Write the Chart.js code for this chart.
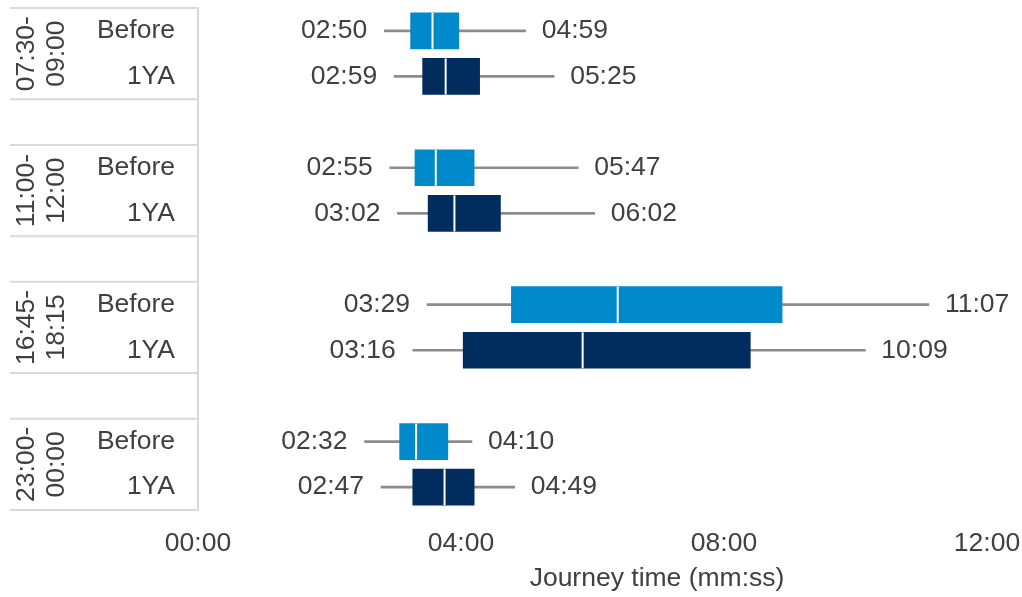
<!DOCTYPE html>
<html>
<head>
<meta charset="utf-8">
<script src="https://cdn.jsdelivr.net/npm/chart.js@4.4.1/dist/chart.umd.min.js"></script>
<style>
  html, body { margin: 0; padding: 0; background: #ffffff; }
  #wrap { position: relative; width: 1022px; height: 597px; }
</style>
</head>
<body>
<div id="wrap"><canvas id="myChart" width="1022" height="597"></canvas></div>
<script>
Chart.defaults.font.size = 26.5;
Chart.defaults.font.family = "'Liberation Sans', Arial, Helvetica, sans-serif";
Chart.defaults.color = '#404040';
const labelFont = "26.5px 'Liberation Sans', Arial, sans-serif";

// rows of the chart (empty label = spacer row between groups)
const rowLabels = ['Before', '1YA', '', 'Before', '1YA', '', 'Before', '1YA', '', 'Before', '1YA'];
const groupLabels = [['07:30-', '09:00'], ['11:00-', '12:00'], ['16:45-', '18:15'], ['23:00-', '00:00']];
const groupRows = [0, 3, 6, 9];

// journey times in seconds
const whiskerMin = [170, 179, null, 175, 182, null, 209, 196, null, 152, 167];
const boxQ1 = [194, 205, null, 198, 210, null, 286, 242, null, 184, 196];
const boxMedian = [214, 226, null, 217, 234, null, 383, 351, null, 199, 225];
const boxQ3 = [238, 257, null, 252, 276, null, 533, 504, null, 228, 252];
const whiskerMax = [299, 325, null, 347, 362, null, 667, 609, null, 250, 289];

const xTicks = [0, 240, 480, 720];
const colorBefore = '#0089CB';
const color1YA = '#002D5D';

function mmss(v) {
    let m = Math.floor(v / 60);
    let s = Math.round(v % 60);
    return String(m).padStart(2, '0') + ':' + String(s).padStart(2, '0');
}

function pairs(a, b) {
    let out = [];
    for (let i = 0; i < a.length; i++) {
        out.push(a[i] == null ? null : [a[i], b[i]]);
    }
    return out;
}

let boxColors = rowLabels.map(l => l == 'Before' ? colorBefore : color1YA);

// ------------------------------
// median lines, whisker labels, group labels, separators
const boxPlugin = {
    id: 'boxExtras',
    afterDatasetsDraw(chart) {
        const ctx = chart.ctx;
        const xs = chart.scales.x;
        const ys = chart.scales.y;
        const meta = chart.getDatasetMeta(0);
        ctx.save();
        // median
        ctx.strokeStyle = '#ffffff';
        ctx.lineWidth = 2;
        for (let i = 0; i < boxMedian.length; i++) {
            if (boxMedian[i] == null) continue;
            let el = meta.data[i];
            let x = xs.getPixelForValue(boxMedian[i]);
            ctx.beginPath();
            ctx.moveTo(x, el.y - el.height / 2);
            ctx.lineTo(x, el.y + el.height / 2);
            ctx.stroke();
        }
        // whisker labels
        ctx.font = labelFont;
        ctx.fillStyle = '#404040';
        ctx.textBaseline = 'middle';
        for (let i = 0; i < whiskerMin.length; i++) {
            if (whiskerMin[i] == null) continue;
            let y = ys.getPixelForValue(i);
            ctx.textAlign = 'right';
            ctx.fillText(mmss(whiskerMin[i]), xs.getPixelForValue(whiskerMin[i]) - 17, y);
            ctx.textAlign = 'left';
            ctx.fillText(mmss(whiskerMax[i]), xs.getPixelForValue(whiskerMax[i]) + 16, y);
        }
        ctx.restore();
    },
    afterDraw(chart) {
        const ctx = chart.ctx;
        const ys = chart.scales.y;
        const area = chart.chartArea;
        let half = (ys.getPixelForValue(1) - ys.getPixelForValue(0)) / 2;
        ctx.save();
        // separators in the label column
        ctx.strokeStyle = '#d9d9d9';
        ctx.lineWidth = 2;
        let lines = [ys.getPixelForValue(0) - half, ys.getPixelForValue(rowLabels.length - 1) + half];
        for (let i = 0; i < rowLabels.length; i++) {
            if (rowLabels[i] == '') {
                lines.push(ys.getPixelForValue(i) - half);
                lines.push(ys.getPixelForValue(i) + half);
            }
        }
        lines.forEach(y => {
            ctx.beginPath();
            ctx.moveTo(10, y);
            ctx.lineTo(area.left, y);
            ctx.stroke();
        });
        // rotated group labels
        ctx.font = labelFont;
        ctx.fillStyle = '#404040';
        ctx.textAlign = 'center';
        ctx.textBaseline = 'middle';
        for (let g = 0; g < groupLabels.length; g++) {
            let yc = (ys.getPixelForValue(groupRows[g]) + ys.getPixelForValue(groupRows[g] + 1)) / 2;
            groupLabels[g].forEach((txt, k) => {
                ctx.save();
                ctx.translate(27 + k * 30, yc);
                ctx.rotate(-Math.PI / 2);
                ctx.fillText(txt, 0, 0);
                ctx.restore();
            });
        }
        // axis title
        ctx.textAlign = 'center';
        ctx.fillText('Journey time (mm:ss)', 657, 579);
        ctx.restore();
    }
};

// ------------------------------
const ctx = document.getElementById('myChart');
new Chart(ctx, {
    type: 'bar',
    data: {
        labels: rowLabels,
        datasets: [{
            label: 'box',
            data: pairs(boxQ1, boxQ3),
            backgroundColor: boxColors,
            borderWidth: 0,
            barThickness: 36,
            grouped: false,
        }, {
            label: 'whisker',
            data: pairs(whiskerMin, whiskerMax),
            backgroundColor: '#8c8c8c',
            borderWidth: 0,
            barThickness: 2,
            grouped: false,
        }]
    },
    options: {
        indexAxis: 'y',
        responsive: false,
        animation: false,
        layout: { padding: { top: 8, right: 35, left: 0, bottom: 0 } },
        plugins: {
            legend: { display: false },
            tooltip: { enabled: false },
        },
        scales: {
            x: {
                min: 0,
                max: 720,
                afterBuildTicks: (scale) => { scale.ticks = xTicks.map(v => ({ value: v })); },
                grid: { display: false, drawTicks: false },
                border: { display: false },
                ticks: {
                    padding: 18,
                    maxRotation: 0,
                    callback: (v) => mmss(v),
                },
                afterFit: (scale) => {
                    scale.height = 87;
                    scale.paddingLeft = 0;
                    scale.paddingRight = 0;
                },
            },
            y: {
                offset: true,
                grid: { display: false, drawTicks: false },
                border: { display: true, color: '#d9d9d9', width: 2 },
                ticks: { padding: 23, autoSkip: false },
                afterFit: (scale) => {
                    scale.width = 198;
                    scale.paddingTop = 0;
                    scale.paddingBottom = 0;
                },
            }
        }
    },
    plugins: [boxPlugin]
});
</script>
</body>
</html>
